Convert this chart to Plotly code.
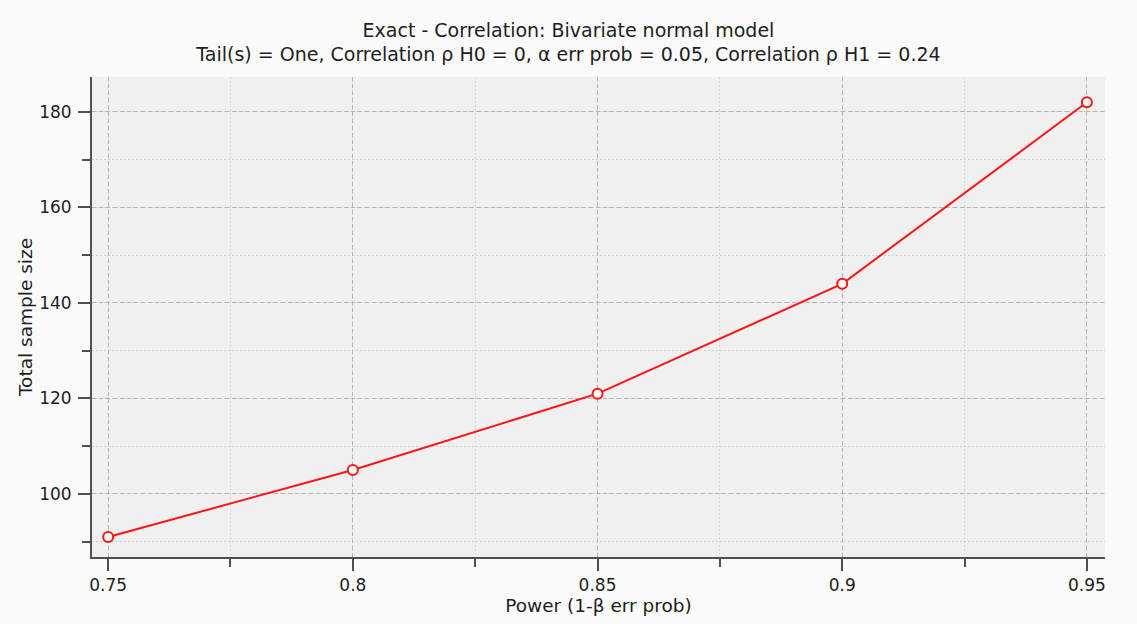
import plotly.graph_objects as go

# Power (1-beta) vs. total sample size for the exact bivariate normal correlation test
power = [0.75, 0.80, 0.85, 0.90, 0.95]
sample_size = [91, 105, 121, 144, 182]

x_ticks = [0.75, 0.8, 0.85, 0.9, 0.95]
x_tick_text = ["0.75", "0.8", "0.85", "0.9", "0.95"]
y_ticks = [100, 120, 140, 160, 180]

title_main = "Exact - Correlation: Bivariate normal model"
title_sub = "Tail(s) = One, Correlation ρ H0 = 0, α err prob = 0.05, Correlation ρ H1 = 0.24"

FONT = "DejaVu Sans"
TEXT_COLOR = "#1e1e1e"
AXIS_COLOR = "#505050"

fig = go.Figure()
fig.add_trace(go.Scatter(
    x=power, y=sample_size,
    mode="lines+markers",
    line=dict(color="#ff1414", width=2),
    marker=dict(symbol="circle", size=10, color="white",
                line=dict(color="#ff1414", width=2)),
    hoverinfo="x+y",
    showlegend=False,
))

fig.update_layout(
    width=1137, height=624,
    margin=dict(l=92, r=32, t=77, b=67),
    paper_bgcolor="#fbfbfb",
    plot_bgcolor="#f0f0f0",
    font=dict(family=FONT, size=17, color=TEXT_COLOR),
    title=dict(
        text=title_main + "<br>" + title_sub,
        x=0.5, xanchor="center",
        y=0.9415, yanchor="middle",
        font=dict(family=FONT, size=19, color=TEXT_COLOR),
    ),
)

fig.update_xaxes(
    range=[0.7467, 0.9537],
    tickvals=x_ticks, ticktext=x_tick_text,
    showline=True, linecolor=AXIS_COLOR, linewidth=2, mirror=False,
    ticks="outside", ticklen=12, tickwidth=2, tickcolor=AXIS_COLOR,
    showgrid=True, gridcolor="#b4b4b4", gridwidth=1, griddash="4px,3px",
    zeroline=False,
    minor=dict(dtick=0.025, tick0=0.75, ticks="outside", ticklen=8, tickwidth=2,
               tickcolor=AXIS_COLOR, showgrid=True, gridcolor="#d6d6d6",
               griddash="2px,2px", gridwidth=1),
    title=dict(text="Power (1-β err prob)", standoff=4,
               font=dict(family=FONT, size=18.5, color=TEXT_COLOR)),
    tickfont=dict(family=FONT, size=17, color=TEXT_COLOR),
)

fig.update_yaxes(
    range=[86.8, 187.3],
    tickvals=y_ticks,
    showline=True, linecolor=AXIS_COLOR, linewidth=2, mirror=False,
    ticks="outside", ticklen=12, tickwidth=2, tickcolor=AXIS_COLOR,
    ticklabelstandoff=3,
    showgrid=True, gridcolor="#b4b4b4", gridwidth=1, griddash="4px,3px",
    zeroline=False,
    minor=dict(dtick=10, tick0=80, ticks="outside", ticklen=8, tickwidth=2,
               tickcolor=AXIS_COLOR, showgrid=True, gridcolor="#d0d0d0",
               griddash="2px,2px", gridwidth=1),
    title=dict(text="Total sample size", standoff=2,
               font=dict(family=FONT, size=18.5, color=TEXT_COLOR)),
    tickfont=dict(family=FONT, size=17, color=TEXT_COLOR),
)

fig.write_html("out.html")
